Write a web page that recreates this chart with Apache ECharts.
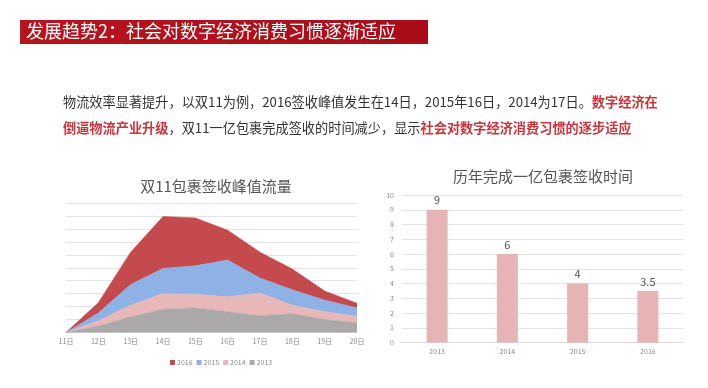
<!DOCTYPE html>
<html><head><meta charset="utf-8">
<script src="https://cdn.jsdelivr.net/npm/echarts@6/dist/echarts.min.js"></script>
<style>html,body{margin:0;padding:0;background:#fff}#c{width:708px;height:388px}</style>
</head><body><div id="c"></div>
<script>
var days = ['11日','12日','13日','14日','15日','16日','17日','18日','19日','20日'];
var s2013 = [0, 0.5, 1.2, 1.8, 1.9, 1.6, 1.3, 1.45, 1.0, 0.75];
var s2014 = [0, 0.4, 0.9, 1.2, 1.05, 1.15, 1.75, 0.65, 0.6, 0.5];
var s2015 = [0, 0.6, 1.6, 1.95, 2.2, 2.85, 1.15, 1.2, 0.9, 0.65];
var s2016 = [0, 0.8, 2.5, 4.0, 3.7, 2.3, 2.0, 1.6, 0.7, 0.35];
var years = ['2013','2014','2015','2016'];
var daysToBillion = [9, 6, 4, 3.5];
var yTicks = [0,1,2,3,4,5,6,7,8,9,10];

var FONT = '"Noto Sans CJK SC","Noto Sans",sans-serif';
var chart = echarts.init(document.getElementById('c'));
function areaSeries(name, data, color) {
  return {name: name, type: 'line', stack: 'all', data: data, xAxisIndex: 0, yAxisIndex: 0,
    symbol: 'none', smooth: false, lineStyle: {width: 0.6, color: color},
    areaStyle: {color: color, opacity: 1}, itemStyle: {color: color}};
}
chart.setOption({
  backgroundColor: '#fff',
  textStyle: {fontFamily: FONT},
  animation: false,
  title: [
    {text: '双11包裹签收峰值流量', left: 211, top: 174, textAlign: 'center',
     textStyle: {fontSize: 15, fontWeight: 'normal', color: '#555', fontFamily: FONT}},
    {text: '历年完成一亿包裹签收时间', left: 538, top: 164, textAlign: 'center',
     textStyle: {fontSize: 15, fontWeight: 'normal', color: '#555', fontFamily: FONT}}
  ],
  graphic: [
    {type: 'rect', shape: {x: 20, y: 20, width: 408, height: 24},
     style: {fill: new echarts.graphic.LinearGradient(0,0,1,0,[{offset:0,color:'#b8141e'},{offset:1,color:'#a80e18'}])}},
    {type: 'text', left: 26, top: 22,
     style: {text: '发展趋势2：社会对数字经济消费习惯逐渐适应', fill: '#fff', fontSize: 18, fontFamily: FONT}},
    {type: 'text', left: 63, top: 95,
     style: {text: '{n|物流效率显著提升，以双11为例，2016签收峰值发生在14日，2015年16日，2014为17日。}{r|数字经济在}\n{r|倒逼物流产业升级}{n|，双11一亿包裹完成签收的时间减少，显示}{r|社会对数字经济消费习惯的逐步适应}',
       rich: {n: {fontSize: 13.2, fill: '#333', fontFamily: FONT, lineHeight: 26},
              r: {fontSize: 13.2, fill: '#c8353c', fontWeight: 'bold', fontFamily: FONT, lineHeight: 26}}}}
  ],
  legend: {data: ['2016','2015','2014','2013'], left: 165, top: 354, itemWidth: 5, itemHeight: 5,
    itemGap: 4, icon: 'rect', textStyle: {fontSize: 7, color: '#888', padding: [0,0,0,-3]},
    selectedMode: false},
  grid: [
    {left: 66, right: 351, top: 203, bottom: 55.5},
    {left: 402, right: 25, top: 195, bottom: 45.5}
  ],
  xAxis: [
    {type: 'category', gridIndex: 0, data: days, boundaryGap: false,
     axisLine: {lineStyle: {color: '#d9d9d9'}}, axisTick: {show: false},
     axisLabel: {fontSize: 7, color: '#888', margin: 5}},
    {type: 'category', gridIndex: 1, data: years,
     axisLine: {lineStyle: {color: '#d9d9d9'}}, axisTick: {show: false},
     axisLabel: {fontSize: 7, color: '#888', margin: 5}}
  ],
  yAxis: [
    {type: 'value', gridIndex: 0, min: 0, max: 10, interval: 1,
     axisLabel: {show: false}, axisLine: {show: false}, axisTick: {show: false},
     splitLine: {lineStyle: {color: '#e3e3e3'}}},
    {type: 'value', gridIndex: 1, min: yTicks[0], max: yTicks[yTicks.length-1], interval: 1,
     axisLabel: {fontSize: 7, color: '#888', margin: 8}, axisLine: {show: false}, axisTick: {show: false},
     splitLine: {lineStyle: {color: '#e3e3e3'}}}
  ],
  series: [
    areaSeries('2013', s2013, '#aaa8a8'),
    areaSeries('2014', s2014, '#e8b8b8'),
    areaSeries('2015', s2015, '#8eb2e6'),
    areaSeries('2016', s2016, '#c54a4d'),
    {type: 'bar', xAxisIndex: 1, yAxisIndex: 1, data: daysToBillion, barWidth: 21,
     itemStyle: {color: '#e6b4b4'},
     label: {show: true, position: 'top', fontSize: 11, color: '#555', distance: 4}}
  ]
});
</script></body></html>
